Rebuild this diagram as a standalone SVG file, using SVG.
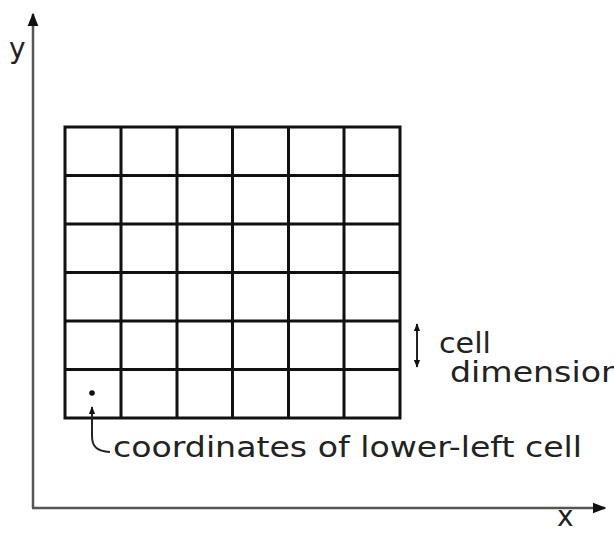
<svg xmlns="http://www.w3.org/2000/svg" width="614" height="533" viewBox="0 0 614 533">
  <style>
    .axis { stroke: #555; stroke-width: 2.5; fill: none; }
    .grid { stroke: #111; stroke-width: 3; fill: none; }
    .lbl { font-family: "DejaVu Sans", "Liberation Sans", sans-serif; font-size: 28px; fill: #222; }
    .thin { stroke: #222; stroke-width: 2; fill: none; }
  </style>
  <defs>
    <marker id="ah" viewBox="0 0 10 10" refX="9" refY="5" markerWidth="5.5" markerHeight="5.5" orient="auto-start-reverse" markerUnits="strokeWidth">
      <path d="M0,1 L10,5 L0,9 Z" fill="#111"/>
    </marker>
    <marker id="ahs" viewBox="0 0 10 10" refX="9" refY="5" markerWidth="4" markerHeight="4" orient="auto-start-reverse" markerUnits="strokeWidth">
      <path d="M0,1 L10,5 L0,9 Z" fill="#111"/>
    </marker>
  </defs>

  <g id="axes">
    <path class="axis" d="M33,508 L33,14" marker-end="url(#ah)"/>
    <path class="axis" d="M32,508 L605,508" marker-end="url(#ah)"/>
    <text class="lbl" x="9" y="58">y</text>
    <text class="lbl" x="557" y="526">x</text>
  </g>

  <g id="grid">
    <rect class="grid" x="65" y="127" width="335" height="291"/>
    <path class="grid" d="M121,127 V418 M177,127 V418 M232.5,127 V418 M288.5,127 V418 M344,127 V418"/>
    <path class="grid" d="M65,175.5 H400 M65,224 H400 M65,272.5 H400 M65,321 H400 M65,369.5 H400"/>
    <circle cx="92" cy="393" r="2.8" fill="#111"/>
  </g>

  <g id="connectors">
    <path class="thin" d="M417,367 L417,324" marker-start="url(#ahs)" marker-end="url(#ahs)"/>
    <path class="thin" d="M110,452 C97,451 92,447 92,436 L92,407" marker-end="url(#ahs)"/>
  </g>

  <g id="cell-dimension">
    <text class="lbl" x="439" y="353" textLength="52" lengthAdjust="spacingAndGlyphs">cell</text>
    <text class="lbl" x="450" y="382" textLength="172" lengthAdjust="spacingAndGlyphs">dimension</text>
  </g>

  <g id="coordinates-label">
    <text class="lbl" x="113" y="457" textLength="469" lengthAdjust="spacingAndGlyphs">coordinates of lower-left cell</text>
  </g>
</svg>
